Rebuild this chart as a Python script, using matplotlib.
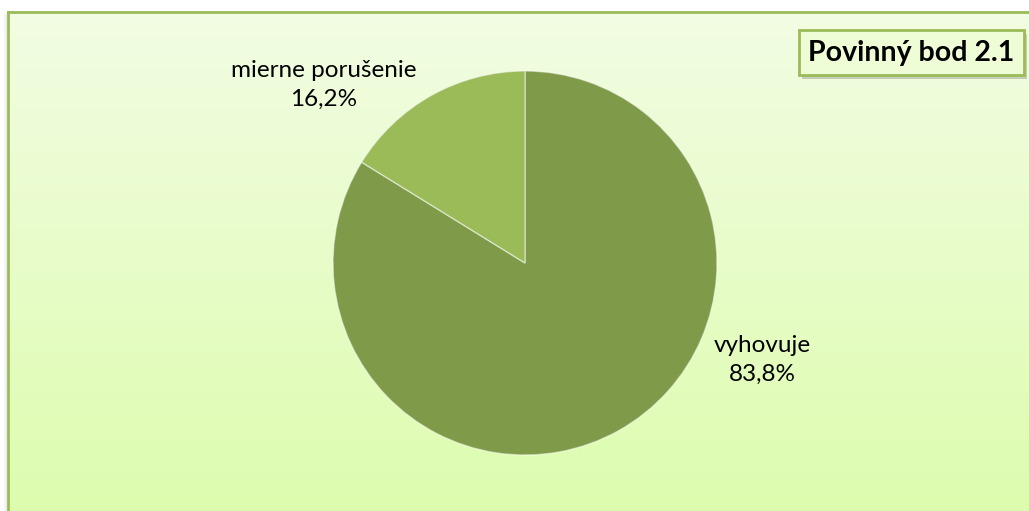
import numpy as np
import matplotlib
matplotlib.use("Agg")
import matplotlib.pyplot as plt
from matplotlib.patches import Rectangle

categories = ["vyhovuje", "mierne porušenie"]
values = [83.8, 16.2]
colors = ["#7F9A48", "#9BBB59"]
title = "Povinný bod 2.1"

W, H = 1029, 511
fig = plt.figure(figsize=(W / 100, H / 100), dpi=100)
fig.patch.set_facecolor("white")
plt.rcParams['font.family'] = ['Lato', 'DejaVu Sans']

def px(x, y):
    return x / W, 1 - y / H

# soft shadow of frame
for i, a in enumerate([0.06, 0.10, 0.16]):
    fig.patches.append(Rectangle(((4 + i) / W, 0), 1 / W, 1 - 14 / H, transform=fig.transFigure,
                                 facecolor="#808080", alpha=a, edgecolor="none", zorder=0))
# background frame with gradient
bg = fig.add_axes([8 / W, 0, 1 - 8 / W, 1 - 12 / H])
top = np.array([0xF2, 0xFD, 0xE3]) / 255
bot = np.array([0xDD, 0xFC, 0xAE]) / 255
t = np.linspace(0, 1, 256)[:, None]
grad = top[None, :] * (1 - t) + bot[None, :] * t
grad = np.repeat(grad[:, None, :], 2, axis=1)
bg.imshow(grad, aspect="auto", extent=[0, 1, 0, 1], origin="upper")
bg.set_xlim(0, 1); bg.set_ylim(0, 1)
bg.set_xticks([]); bg.set_yticks([])
for s in ["right", "bottom"]:
    bg.spines[s].set_visible(False)
for s in ["left", "top"]:
    bg.spines[s].set_color("#9BBB59")
    bg.spines[s].set_linewidth(2.0)

# pie
cx, cy, r = 525, 263, 192
ax = fig.add_axes([(cx - r) / W, (H - cy - r) / H, 2 * r / W, 2 * r / H])
ax.set_facecolor("none")
wedges, _ = ax.pie(values, colors=colors, startangle=90, counterclock=False,
                   radius=1.0, wedgeprops=dict(edgecolor=(1, 1, 1, 0.5), linewidth=1.0))
ax.set_xlim(-1, 1); ax.set_ylim(-1, 1)
ax.set_aspect("auto")
ax.axis("off")

total = sum(values)
label_pos = [(762, 360), (324, 85)]
for cat, v, (lx, ly) in zip(categories, values, label_pos):
    pct = f"{v / total * 100:.1f}%".replace(".", ",")
    fig.text(*px(lx, ly), f"{cat}\n{pct}", ha="center", va="center",
             fontsize=17.5, color="#000000", linespacing=1.45)

# title box with shadow
bx0, by0, bx1, by1 = 799, 30, 1024, 75
fig.patches.append(Rectangle((bx0 / W + 3 / W, 1 - by1 / H - 4 / H), (bx1 - bx0) / W, (by1 - by0) / H,
                             transform=fig.transFigure, facecolor="#000000", alpha=0.18,
                             edgecolor="none", zorder=5))
fig.patches.append(Rectangle((bx0 / W, 1 - by1 / H), (bx1 - bx0) / W, (by1 - by0) / H,
                             transform=fig.transFigure, facecolor="#EEFDD5",
                             edgecolor="#9BBB59", linewidth=2.0, zorder=6))
fig.text(*px((bx0 + bx1) / 2, (by0 + by1) / 2 + 1), title, ha="center", va="center",
         fontsize=20.5, fontweight="bold", color="#000000", zorder=7)

fig.savefig("out.png", dpi=100)
